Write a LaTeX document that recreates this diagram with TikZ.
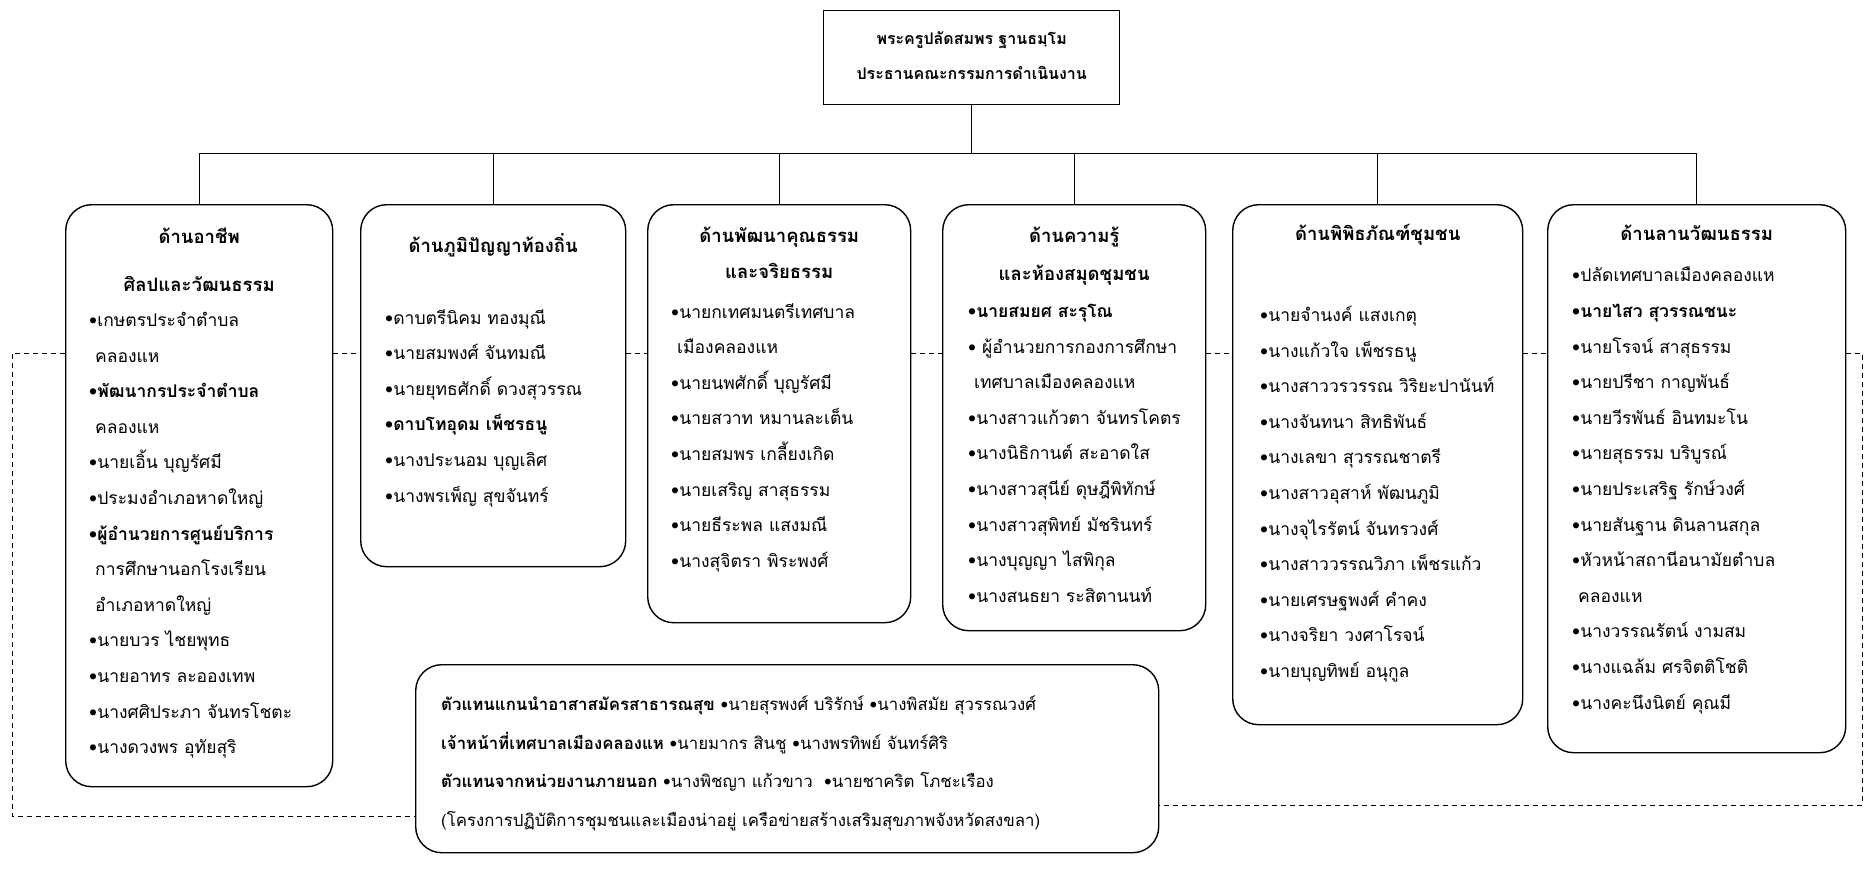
\documentclass[tikz,border=0pt]{standalone}
\usepackage{fontspec}
\newfontfamily\thai[Script=Thai]{Loma}
\usetikzlibrary{calc}
\newcommand\bu{•}
\tikzset{%
  panel/.style={draw,line width=1.4pt,rounded corners=26pt,inner sep=0pt},
  chair/.style={draw,line width=1.4pt,inner sep=0pt},
  head/.style={font=\thai\bfseries\fontsize{18.5}{36}\selectfont,align=center,
    anchor=north,inner sep=0pt,execute at begin node=\strut},
  items/.style={font=\thai\fontsize{17.5}{35.6}\selectfont,align=left,
    anchor=north west,inner sep=0pt,execute at begin node=\strut},
  link/.style={line width=1.4pt},
  dashlink/.style={line width=1pt,dash pattern=on 5pt off 4pt}
}

\begin{document}
\begin{tikzpicture}[x=1pt,y=-1pt]
\useasboundingbox (0,0) rectangle (1870,873);

%% chairman

\node[chair,minimum width=296pt,minimum height=94pt,anchor=north west]
  (top) at (823,10) {};
\node[head,font=\thai\bfseries\fontsize{16}{35}\selectfont] (toptxt)
  at ($(top.north)+(0,21)$)
  {พระครูปลัดสมพร ฐานธมฺโม\\ประธานคณะกรรมการดำเนินงาน};

%% the six panels

\node[panel,minimum width=267pt,minimum height=582pt,anchor=north west]
  (b1) at (65,204) {};
\node[panel,minimum width=265pt,minimum height=362pt,anchor=north west]
  (b2) at (360,204) {};
\node[panel,minimum width=263pt,minimum height=418pt,anchor=north west]
  (b3) at (647,204) {};
\node[panel,minimum width=263pt,minimum height=426pt,anchor=north west]
  (b4) at (942,204) {};
\node[panel,minimum width=290pt,minimum height=520pt,anchor=north west]
  (b5) at (1232,204) {};
\node[panel,minimum width=298pt,minimum height=548pt,anchor=north west]
  (b6) at (1547,204) {};
\node[panel,minimum width=743pt,minimum height=188pt,anchor=north west]
  (bot) at (415,664) {};

%% headings

\node[head] (h1) at ($(b1.north)+(0,24)$) {ด้านอาชีพ\\[12pt]ศิลปและวัฒนธรรม};
\node[head] (h2) at ($(b2.north)+(0,23)$) {ด้านภูมิปัญญาท้องถิ่น};
\node[head] (h3) at ($(b3.north)+(0,23)$) {ด้านพัฒนาคุณธรรม\\และจริยธรรม};
\node[head] (h4) at ($(b4.north)+(0,23)$) {ด้านความรู้\\[2pt]และห้องสมุดชุมชน};
\node[head] (h5) at ($(b5.north)+(0,11)$) {ด้านพิพิธภัณฑ์ชุมชน};
\node[head] (h6) at ($(b6.north)+(0,11)$) {ด้านลานวัฒนธรรม};

%% members

\node[items] (l1) at ($(b1.north west)+(24,108)$) {%
  \bu เกษตรประจำตำบล\\
  \hspace*{6pt}คลองแห\\
  \textbf{\bu พัฒนากรประจำตำบล}\\
  \hspace*{6pt}คลองแห\\
  \bu นายเอิ้น บุญรัศมี\\
  \bu ประมงอำเภอหาดใหญ่\\
  \textbf{\bu ผู้อำนวยการศูนย์บริการ}\\
  \hspace*{6pt}การศึกษานอกโรงเรียน\\
  \hspace*{6pt}อำเภอหาดใหญ่\\
  \bu นายบวร ไชยพุทธ\\
  \bu นายอาทร ละอองเทพ\\
  \bu นางศศิประภา จันทรโชตะ\\
  \bu นางดวงพร อุทัยสุริ};
\node[items] (l2) at ($(b2.north west)+(25,105)$) {%
  \bu ดาบตรีนิคม ทองมุณี\\
  \bu นายสมพงศ์ จันทมณี\\
  \bu นายยุทธศักดิ์ ดวงสุวรรณ\\
  \textbf{\bu ดาบโทอุดม เพ็ชรธนู}\\
  \bu นางประนอม บุญเลิศ\\
  \bu นางพรเพ็ญ สุขจันทร์};
\node[items] (l3) at ($(b3.north west)+(24,99)$) {%
  \bu นายกเทศมนตรีเทศบาล\\
  \hspace*{6pt}เมืองคลองแห\\
  \bu นายนพศักดิ์ บุญรัศมี\\
  \bu นายสวาท หมานละเต็น\\
  \bu นายสมพร เกลี้ยงเกิด\\
  \bu นายเสริญ สาสุธรรม\\
  \bu นายธีระพล แสงมณี\\
  \bu นางสุจิตรา พิระพงศ์};
\node[items] (l4) at ($(b4.north west)+(26,100)$) {%
  \textbf{\bu นายสมยศ สะรุโณ}\\
  \bu{} ผู้อำนวยการกองการศึกษา\\
  \hspace*{6pt}เทศบาลเมืองคลองแห\\
  \bu นางสาวแก้วตา จันทรโคตร\\
  \bu นางนิธิกานต์ สะอาดใส\\
  \bu นางสาวสุนีย์ ดุษฎีพิทักษ์\\
  \bu นางสาวสุพิทย์ มัชรินทร์\\
  \bu นางบุญญา ไสพิกุล\\
  \bu นางสนธยา ระสิตานนท์};
\node[items] (l5) at ($(b5.north west)+(28,102)$) {%
  \bu นายจำนงค์ แสงเกตุ\\
  \bu นางแก้วใจ เพ็ชรธนู\\
  \bu นางสาววรวรรณ วิริยะปานันท์\\
  \bu นางจันทนา สิทธิพันธ์\\
  \bu นางเลขา สุวรรณชาตรี\\
  \bu นางสาวอุสาห์ พัฒนภูมิ\\
  \bu นางจุไรรัตน์ จันทรวงศ์\\
  \bu นางสาววรรณวิภา เพ็ชรแก้ว\\
  \bu นายเศรษฐพงศ์ คำคง\\
  \bu นางจริยา วงศาโรจน์\\
  \bu นายบุญทิพย์ อนุกูล};
\node[items] (l6) at ($(b6.north west)+(25,63)$) {%
  \bu ปลัดเทศบาลเมืองคลองแห\\
  \textbf{\bu นายไสว สุวรรณชนะ}\\
  \bu นายโรจน์ สาสุธรรม\\
  \bu นายปรีชา กาญพันธ์\\
  \bu นายวีรพันธ์ อินทมะโน\\
  \bu นายสุธรรม บริบูรณ์\\
  \bu นายประเสริฐ รักษ์วงศ์\\
  \bu นายสันฐาน ดินลานสกุล\\
  \bu หัวหน้าสถานีอนามัยตำบล\\
  \hspace*{6pt}คลองแห\\
  \bu นางวรรณรัตน์ งามสม\\
  \bu นางแฉล้ม ศรจิตติโชติ\\
  \bu นางคะนึงนิตย์ คุณมี};
\node[items,font=\thai\fontsize{16.8}{38.5}\selectfont] (l7)
  at ($(bot.north west)+(26,32)$) {%
  \textbf{ตัวแทนแกนนำอาสาสมัครสาธารณสุข} \bu นายสุรพงศ์ บริรักษ์ \bu นางพิสมัย สุวรรณวงศ์\\
  \textbf{เจ้าหน้าที่เทศบาลเมืองคลองแห} \bu นายมากร สินชู \bu นางพรทิพย์ จันทร์ศิริ\\
  \textbf{ตัวแทนจากหน่วยงานภายนอก} \bu นางพิชญา แก้วขาว \ \bu นายชาคริต โภชะเรือง\\
  (โครงการปฏิบัติการชุมชนและเมืองน่าอยู่ เครือข่ายสร้างเสริมสุขภาพจังหวัดสงขลา)};

%% solid tree

\draw[link] (top.south) -- ++(0,48) coordinate (bus);
\draw[link] (b1.north) |- (bus) -| (b6.north);
\foreach \b in {b2,b3,b4,b5}
  \draw[link] (\b.north) -- (\b.north |- bus);

%% dashed links

\foreach \a/\b in {b1/b2,b2/b3,b3/b4,b4/b5,b5/b6}
  \draw[dashlink] ($(\a.north east)+(0,149)$) -- ($(\b.north west)+(0,149)$);
\coordinate (lcorner) at (12,816);
\coordinate (rcorner) at (1862,805);
\draw[dashlink] ($(b1.north west)+(0,149)$) -| (lcorner) -- (lcorner -| bot.west);
\draw[dashlink] ($(b6.north east)+(0,149)$) -| (rcorner) -- (rcorner -| bot.east);
\end{tikzpicture}
\end{document}
